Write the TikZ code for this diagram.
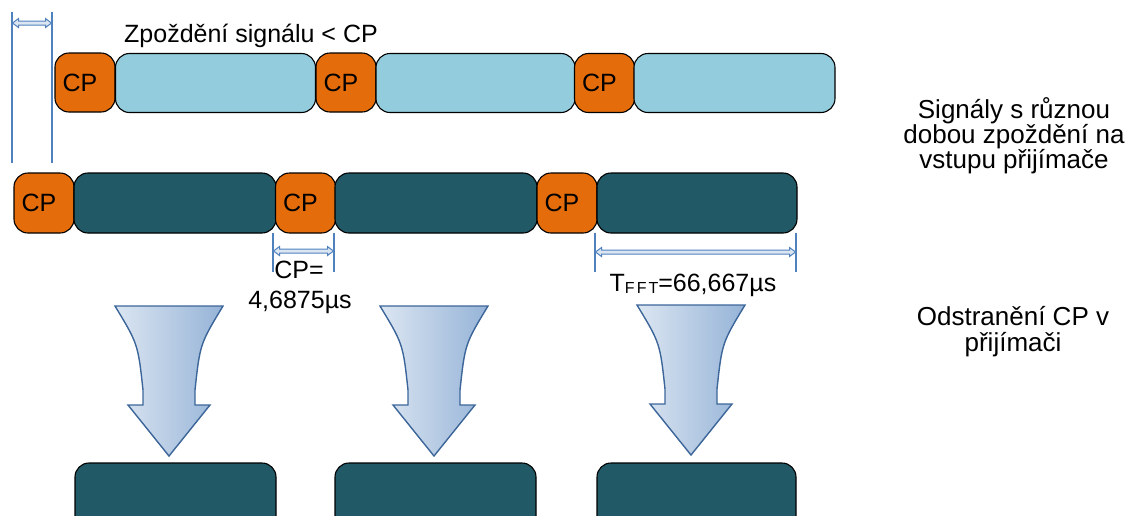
\documentclass[tikz,border=0pt]{standalone}
\usepackage{fontspec}
\setmainfont{Liberation Sans}
\usetikzlibrary{calc}
\definecolor{cporange}{HTML}{E46C0A}
\definecolor{symlight}{HTML}{93CDDD}
\definecolor{symdark}{HTML}{215967}
\definecolor{dimblue}{HTML}{4F81BD}
\definecolor{dimfill}{HTML}{DCE6F2}
\definecolor{funnelline}{HTML}{3C6699}
\definecolor{funnelleft}{HTML}{DCE6F2}
\definecolor{funnelright}{HTML}{95B3D7}
\tikzset{
  base/.style={font=\fontsize{25}{25}\selectfont, inner sep=0pt},
  blk/.style={draw=black, line width=1.1pt, rounded corners=14pt, inner sep=0pt,
    font=\fontsize{25}{25}\selectfont},
  cpbox/.style={blk, fill=cporange, minimum width=60pt, minimum height=59pt},
  cpboxb/.style={blk, fill=cporange, minimum width=60pt, minimum height=60pt},
  databox/.style={blk, fill=symlight, minimum height=59pt},
  darkbox/.style={blk, fill=symdark, minimum height=60pt},
  dimline/.style={draw=dimblue, line width=1.2pt},
  dimarrow/.pic={
    \path[draw=dimblue, fill=dimfill, line width=1pt, line join=miter]
      (0,0) -- (6,-4.5) -- (6,-2) -- (#1-6,-2) -- (#1-6,-4.5) -- (#1,0)
      -- (#1-6,4.5) -- (#1-6,2) -- (6,2) -- (6,4.5) -- cycle;
  },
  funnel/.pic={
    \path[draw=funnelline, line width=1.4pt, line join=miter,
          left color=funnelleft, right color=funnelright]
      (-54,0) .. controls (-31,38) .. (-26,84) -- (-26,99) -- (-41,99)
      -- (0,150) -- (41,99) -- (26,99) -- (26,84)
      .. controls (31,38) .. (54,0) -- cycle;
  }
}
\begin{document}
\begin{tikzpicture}[x=1pt, y=-1pt]
\useasboundingbox (0,0) rectangle (1127,515);
\clip (0,0) rectangle (1127,515);

% delayed copy of the signal (light)
\node[cpbox] (a1) at (85,82.5) {\kern-10pt CP};
\node[databox, minimum width=200pt] (a2) at (215.5,83) {};
\node[cpbox] (a3) at (346,82.5) {\kern-10pt CP};
\node[databox, minimum width=199pt] (a4) at (475.5,83) {};
\node[cpbox] (a5) at (604.5,83) {\kern-10pt CP};
\node[databox, minimum width=201pt] (a6) at (734.5,83) {};

% reference signal (dark)
\node[cpboxb] (b1) at (44,203) {\kern-10pt CP};
\node[darkbox, minimum width=202pt] (b2) at (175,203) {};
\node[cpboxb] (b3) at (305.5,203) {\kern-10pt CP};
\node[darkbox, minimum width=202pt] (b4) at (436,203) {};
\node[cpboxb] (b5) at (567,203) {\kern-10pt CP};
\node[darkbox, minimum width=200pt] (b6) at (697,203) {};

% symbols after CP removal
\node[darkbox, minimum width=201pt, minimum height=70pt] (c1) at (175.5,498) {};
\node[darkbox, minimum width=201pt, minimum height=70pt] (c2) at (435.5,498) {};
\node[darkbox, minimum width=199pt, minimum height=70pt] (c3) at (696.5,498) {};

% delay marker
\coordinate (d1t) at (12,12);
\coordinate (d1b) at (12,163);
\coordinate (d2t) at (52,12);
\coordinate (d2b) at (52,163);
\draw[dimline] (d1t) -- (d1b);
\draw[dimline] (d2t) -- (d2b);
\pic at (12.5,23) {dimarrow=39};
\node[base, anchor=base] (delay) at (251,42) {Zpoždění signálu < CP};

% CP length marker
\coordinate (e1t) at (273,233);
\coordinate (e1b) at (273,272);
\coordinate (e2t) at (334,233);
\coordinate (e2b) at (334,272);
\draw[dimline] (e1t) -- (e1b);
\draw[dimline] (e2t) -- (e2b);
\pic at (273.5,251) {dimarrow=60};
\node[base, anchor=base] (cplab) at (299,278) {CP=};
\node[base, anchor=base] (cpval) at (300,308) {4,6875µs};

% FFT length marker
\coordinate (f1t) at (595,233);
\coordinate (f1b) at (595,272);
\coordinate (f2t) at (796,233);
\coordinate (f2b) at (796,272);
\draw[dimline] (f1t) -- (f1b);
\draw[dimline] (f2t) -- (f2b);
\pic at (595.5,252) {dimarrow=200};
\node[base, anchor=base] (fftlab) at (693,291)
  {T\raisebox{-2pt}{\fontsize{16}{16}\selectfont F\kern2pt F\kern2pt T}=66,667µs};

% CP removal arrows
\pic at (169,306) {funnel};
\pic at (434,306) {funnel};
\pic at (691,305) {funnel};

% side captions
\node[base, align=center, font=\fontsize{26}{25}\selectfont] (cap1) at (1014,136)
  {Signály s různou\\dobou zpoždění na\\vstupu přijímače};
\node[base, align=center, font=\fontsize{26}{26}\selectfont] (cap2) at (1013,332)
  {Odstranění CP v\\přijímači};
\end{tikzpicture}
\end{document}
